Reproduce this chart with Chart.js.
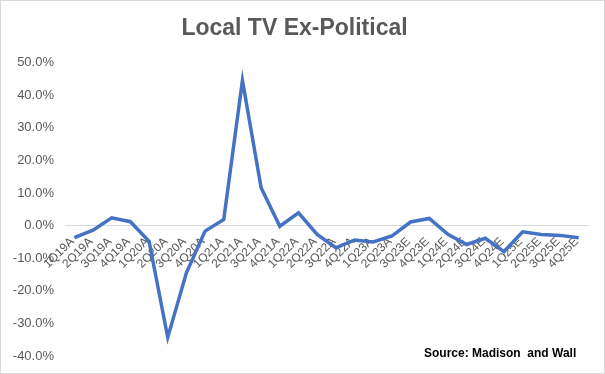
<!DOCTYPE html>
<html>
<head>
<meta charset="utf-8">
<script src="https://cdn.jsdelivr.net/npm/chart.js@4/dist/chart.umd.min.js"></script>
<style>
  html, body { margin: 0; padding: 0; background: #ffffff; }
  #wrap { position: relative; width: 605px; height: 374px; box-sizing: border-box; border: 1px solid #d9d9d9; }
  #c { position: absolute; left: 0; top: 0; }
  #src { position: absolute; left: 423px; top: 345px; font: bold 12px "Liberation Sans", Arial, sans-serif; color: #000; white-space: pre; }
</style>
</head>
<body>
<div id="wrap">
  <canvas id="c" width="605" height="374"></canvas>
  <div id="src">Source: Madison  and Wall</div>
</div>
<script>
const titleText = "Local TV Ex-Political";
const categories = ["1Q19A","2Q19A","3Q19A","4Q19A","1Q20A","2Q20A","3Q20A","4Q20A",
  "1Q21A","2Q21A","3Q21A","4Q21A","1Q22A","2Q22A","3Q22A","4Q22A",
  "1Q23A","2Q23A","3Q23E","4Q23E","1Q24E","2Q24E","3Q24E","4Q24E",
  "1Q25E","2Q25E","3Q25E","4Q25E"];
const growth = [-3.7, -1.4, 2.4, 1.2, -4.8, -34.3, -14.5, -1.7,
  1.9, 44.5, 11.6, -0.2, 3.9, -2.7, -6.8, -4.4,
  -5.0, -3.2, 1.1, 2.2, -2.7, -5.8, -3.9, -8.0,
  -1.9, -2.7, -3.0, -3.7];
const yMin = -40, yMax = 50, yStep = 10;

new Chart(document.getElementById('c'), {
  type: 'line',
  data: {
    labels: categories,
    datasets: [{
      data: growth,
      borderColor: '#4472C4',
      borderWidth: 3.5,
      pointRadius: 0,
      tension: 0,
      fill: false
    }]
  },
  options: {
    responsive: false,
    animation: false,
    layout: { padding: { left: 0, right: 18, top: 0, bottom: 19 } },
    plugins: {
      legend: { display: false },
      tooltip: { enabled: false },
      title: {
        display: true,
        text: titleText,
        color: '#595959',
        font: { family: '"Liberation Sans", Arial, sans-serif', size: 23, weight: 'bold' },
        padding: { top: 14, bottom: 20 }
      }
    },
    scales: {
      x: {
        position: { y: 0 },
        offset: true,
        grid: { display: false, drawTicks: false },
        border: { display: true, color: '#d9d9d9', width: 1 },
        ticks: {
          autoSkip: false,
          minRotation: 45,
          maxRotation: 45,
          padding: 9,
          labelOffset: -2,
          color: '#595959',
          font: { family: '"Liberation Sans", Arial, sans-serif', size: 12 }
        }
      },
      y: {
        min: yMin,
        max: yMax,
        afterFit: (s) => { s.width = 64; },
        grid: { display: false, drawTicks: false },
        border: { display: false },
        ticks: {
          stepSize: yStep,
          padding: 11,
          color: '#595959',
          font: { family: '"Liberation Sans", Arial, sans-serif', size: 13 },
          callback: (v) => v.toFixed(1) + '%'
        }
      }
    }
  }
});
</script>
</body>
</html>
